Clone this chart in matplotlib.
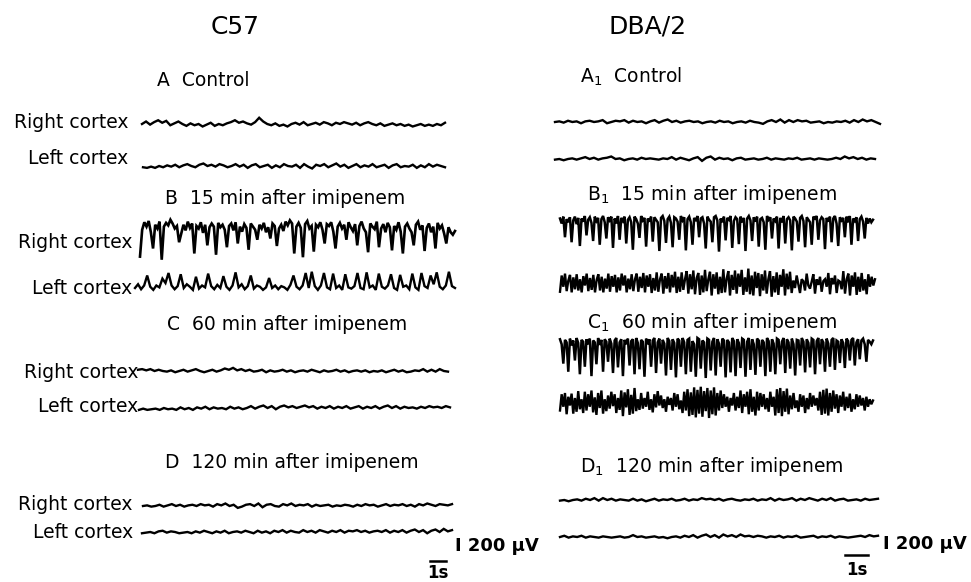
import numpy as np
import matplotlib
matplotlib.use("Agg")
import matplotlib.pyplot as plt

plt.rcParams['font.family'] = ['DejaVu Sans']
plt.rcParams['mathtext.default'] = 'regular'

# EEG samples in microvolts (positive = up)
c57_A_right = [0, 40, -10, 30, 60, 20, 50, -20, 10, 40, 0, -30, 10, -20, 0, -40, -10, 20, -30, 0, -20, 10, 30, 60, 20, 40, 10, -10, 30, 100, 40, 0, -20, 10, -30, -10, -40, 0, 20, -10, 30, -20, 0, 20, -10, 30, 10, -20, 20, 0, 30, 10, -10, 20, -20, 10, 30, 0, -20, 10, -30, -10, 10, -20, 0, -30, -10, -40, -20, 0, -30, -10, -30, 0, -20, 20]
c57_A_left = [-20, -30, -10, -30, 0, -20, 10, -10, 20, -20, 10, 30, 0, -20, 20, 40, 0, 20, -10, 30, 10, -20, 0, 30, -10, 20, -30, 10, 30, -20, 0, 20, -30, 10, -20, 30, 0, -10, 20, -30, 30, -10, -40, 20, 0, 30, -20, 10, 40, -10, 20, -30, 0, 30, -20, 10, -10, 30, -20, 0, 20, -30, 10, 30, -20, 0, -10, 20, -30, 10, -20, 30, -10, 20, 0, -20]
c57_B_right = [-330, 100, 220, 150, 240, 60, -200, 180, 120, 230,
               -380, 150, 210, 170, 260, 200, 120, 160, -100, 40,
               180, 90, 230, 130, 200, -280, 160, 120, 220, 50,
               180, -150, 140, 200, 150, -300, 210, 140, 180, 100,
               -180, 160, 200, 90, 220, -120, 150, 70, 190, 130,
               -220, 200, 150, 100, -60, 180, 120, 210, 60, 140,
               -40, 200, 160, -160, 120, 180, 80, 230, 170, 250,
               200, -280, 150, 210, 130, -340, 190, 240, 120, 160,
               -250, 180, 140, 220, 100, -120, 190, 160, 220, 70,
               -200, 150, 210, 120, 180, -60, 220, 140, 80, 190,
               -150, 160, 230, 120, 60, -260, 200, 150, 110, 230,
               -180, 120, 190, 60, 210, 140, -230, 160, 100, 220,
               70, -280, 150, 200, 120, 60, -150, 180, 230, 100,
               170, -240, 130, 200, 60, 150, -200, 210, 120, 170,
               40, -120, 140, 60, 20, 80]
c57_B_left = [0, 60, -20, 40, 200, 20, -30, 40, 10, 150, 80, 240, 40, -20, 30, 220, 0, 60, 20, -30, 180, -10, 40, 10, 230, 30, -20, 50, 0, 190, 20, -30, 40, 250, 10, 60, -20, 30, 200, -10, 40, 20, -30, 10, 160, 0, 40, -20, 30, 10, -30, 50, 200, 20, -20, 40, 240, 0, 260, 30, -30, 40, 240, 10, -20, 230, 0, 40, -30, 220, 10, -10, 30, 240, 0, -20, 250, 10, 40, -30, 230, 20, -10, 40, 220, 0, -30, 210, 20, 40, -20, 230, 10, -30, 240, 30, 0, 200, 60, 250, 20, -20, 40, 260, 30, 0]
c57_C_right = [20, 30, 10, 30, 0, 20, 0, -10, 10, -20, 0, 20, -10, 10, 30, 0, -20, 0, 20, -10, 10, 40, 20, 50, 10, 30, 0, 20, -10, 0, 20, -20, 10, -10, 0, 20, -10, 10, -20, 0, 10, -10, 20, 0, -20, 10, -10, 0, 20, -10, 10, -20, 0, 10, -10, 10, -20, 0, -10, 10, -20, 0, 20, -10, 10, -20, -10, 10, 0, 30, -10, 20, -10, 30, 0, -10]
c57_C_left = [-30, -10, -30, -20, -10, -30, 0, -20, -10, -30, 10, -20, 0, -30, 10, -10, 20, -20, 10, -10, 0, -20, 20, -10, 10, -20, 0, 30, -10, 20, 40, 0, 30, -20, 20, 40, 10, 30, 0, 20, 40, 10, 30, -10, 20, 0, 30, -10, 20, 0, 30, -10, 10, 30, -10, 20, 0, 30, -10, 20, 40, 0, 30, -10, 20, 0, 10, -10, 20, 0, 30, 10, 20, 0, 30, 10]
c57_D_right = [0, 10, -10, 0, 20, -10, 10, 30, 0, 20, -10, 10, 20, 0, 30, 10, 20, -10, 30, 10, 40, 0, 20, -30, -10, 20, 30, 0, 40, -20, 20, 30, 0, -10, 30, 10, 40, 0, 20, 10, 30, -10, 20, 0, 10, 20, -10, 10, 0, 20, 10, -10, 20, 0, 30, 10, 20, -10, 10, 30, 0, 20, 10, 30, 0, 20, -10, 30, 10, 40, 20, 0, 30, 20, 10, 30]
c57_D_left = [-20, -10, 0, -20, 10, 20, -10, 10, 0, -20, -10, 0, -20, 10, -10, 20, 0, -20, 10, -10, 20, -20, 0, 10, -10, 20, 0, -20, 20, -10, 10, -20, 20, 0, 30, -10, 20, 0, -10, 30, 0, 20, -10, 30, 10, -10, 20, 0, 30, -10, 20, 10, 30, 0, 20, -10, 10, 20, 0, 30, -10, 20, 0, 30, -10, 20, 40, 0, 30, -20, 20, 40, 0, 50, 10, 30]

dba_A_right = [0, 10, -10, 20, 0, 10, -20, 10, 20, 0, 10, 30, -20, 0, 20, 10, 30, -10, 20, 0, 10, -20, 10, 30, -10, 20, 40, 0, 20, -10, 10, 20, 0, 10, -20, 0, 10, -10, 20, 0, 10, -20, 0, 10, -10, 20, 0, -10, -30, 10, 30, 0, 40, -10, 30, 0, 30, 10, 20, -10, 0, 10, -20, 0, -10, 10, 0, 20, -10, 30, 0, 40, 10, 30, 0, -30]
dba_A_left = [-10, 0, -20, 0, 10, -10, 10, 30, 0, 20, -10, 10, 20, 40, 0, 10, -20, 0, 10, -10, 20, 0, 10, 0, -10, 10, 0, 30, -10, 20, 0, -20, 10, 30, -30, 20, 40, -10, 20, 0, 10, -20, 10, 20, -10, 0, 10, -10, 0, 20, -10, 10, 0, -10, 10, 0, 20, -10, 0, 10, -10, 10, 0, -10, 0, 20, 0, 40, 10, 30, 0, 20, -10, 10, 0]
dba_B_right = [120, 40, 150, -180, 110, 60, 140, -260, 90, 150,
               30, 130, -320, 120, 70, 160, -150, 100, 140, 50,
               -240, 150, 80, 130, -300, 110, 160, 60, -200, 140,
               90, 150, -350, 120, 40, 160, -220, 130, 80, 150,
               -280, 100, 140, 60, -380, 150, 110, 40, -190, 160,
               90, 130, -330, 120, 70, 150, -250, 140, 100, 60,
               -400, 130, 160, 80, -270, 110, 150, 50, -340, 140,
               120, 70, -220, 160, 90, 140, -390, 110, 150, 60,
               -300, 130, 80, 160, -180, 120, 140, 40, -360, 150,
               100, 70, -260, 140, 160, 90, -410, 120, 60, 150,
               -230, 130, 100, 160, -350, 80, 140, 110, -290, 150,
               60, 130, -400, 120, 160, 90, -240, 140, 70, 150,
               -330, 110, 130, 60, -380, 160, 100, 140, -200, 120,
               80, 150, -360, 130, 60, 160, -280, 110, 140, 90,
               -390, 150, 120, 70, -250, 130, 160, 80, -340, 140,
               100, 60, -300, 150, 120, 160, -220, 90, 140, 110,
               -370, 130, 70, 150, -260, 120, 160, 40, -320, 140,
               90, 130, -180, 150, 60, 160, -300, 120, 80, 140,
               -240, 110, 150, 70, -200, 130, 40, 120, 60, 100]
dba_B_left = [-140, 120, -60, 150, -130, 40, 130, -150, 90, -100,
              140, -120, 60, -150, 110, -40, 150, -130, 80, -110,
              130, -150, 50, 140, -120, 100, -150, 70, -90, 150,
              -140, 110, -60, 130, -150, 90, -120, 150, -40, 120,
              -150, 70, -100, 140, -130, 60, 150, -140, 100, -80,
              160, -150, 120, -60, 140, -160, 80, -120, 170, -140,
              60, 150, -170, 110, -90, 160, -150, 130, -70, 180,
              -160, 100, -140, 170, -110, 60, 190, -170, 140, -100,
              200, -180, 80, 160, -190, 120, -150, 210, -130, 60,
              180, -200, 140, -90, 170, -180, 100, -160, 220, -150,
              70, 190, -200, 130, -110, 200, -170, 150, -60, 210,
              -190, 90, -140, 230, -180, 120, -200, 180, -80, 160,
              -210, 140, -120, 200, -170, 60, 190, -220, 110, -150,
              170, -190, 130, -60, 220, -200, 150, -100, 180, -160,
              40, -80, 120, -20, -160, 60, 30, -120, 150, -40,
              -90, 20, 140, -170, 60, -30, 100, -140, 30, 60,
              -60, 160, -180, 80, -20, 120, -160, 40, 20, -100,
              190, -170, 60, 150, -200, 120, -60, 170, -190, 100,
              -140, 160, -120, 60, -180, 140, -60, 100, -40, 60]
dba_C_right = [140, 60, -250, 130, 90, -380, 150, 40, 120, -200,
               160, 80, -420, 130, 100, -300, 140, 60, 150, -450,
               120, 90, -260, 160, 50, 130, -380, 140, 100, -220,
               150, 70, -400, 120, 160, -310, 90, 140, -450, 130,
               60, 150, -280, 110, 140, -420, 160, 80, -340, 130,
               100, -460, 150, 60, 140, -300, 120, 160, -400, 90,
               150, -250, 130, 70, -440, 160, 110, -350, 140, 80,
               -470, 150, 120, -300, 160, 90, -420, 130, 150, -380,
               110, 60, -460, 160, 140, -330, 120, 90, -480, 150,
               130, -360, 100, 160, -440, 140, 70, -300, 150, 120,
               -470, 130, 90, -390, 160, 110, -450, 140, 80, -320,
               150, 130, -460, 100, 160, -350, 140, 60, -430, 150,
               120, -300, 130, 90, -450, 160, 110, -380, 140, 70,
               -420, 150, 130, -260, 100, 160, -400, 140, 90, -330,
               150, 60, -440, 130, 120, -280, 160, 100, -390, 140,
               80, -310, 150, 130, -420, 110, 160, -260, 140, 90,
               -380, 150, 70, -300, 130, 160, -350, 120, 100, -240,
               140, 80, -320, 150, 110, -200, 130, 160, -280, 90,
               140, -180, 120, 150, 60, -220, 130, 100, 60, 120]
dba_C_left = [-120, 140, -60, 160, -180, 100, -40, 150, -170, 80,
              -140, 190, -100, 60, -160, 180, -120, 140, -60, 200,
              -150, 90, -190, 160, -80, 200, -170, 60, -130, 120,
              -90, 180, -50, 140, -160, 80, -110, 200, -210, 170,
              -70, 220, -190, 130, -170, 240, -130, 60, -110, 160,
              -90, 80, -60, 180, -110, 60, -150, 140, -70, 190,
              -40, 120, -80, 60, -140, 100, -30, 80, -120, 160,
              -60, 140, -100, 40, -160, 180, -120, 220, -210, 170,
              -190, 250, -230, 210, -170, 260, -220, 190, -130, 240,
              -240, 200, -180, 250, -200, 160, -120, 200, -80, 140,
              -60, 100, -140, 80, -40, 160, -120, 100, -80, 200,
              -160, 140, -60, 180, -180, 220, -140, 100, -200, 180,
              -120, 160, -60, 140, -100, 80, -140, 180, -60, 100,
              -200, 220, -160, 240, -210, 190, -140, 230, -180, 120,
              -100, 160, -80, 40, -140, 140, -60, 120, -160, 80,
              -100, 160, -60, 120, -40, 80, -120, 180, -190, 210,
              -170, 230, -200, 160, -140, 200, -90, 140, -160, 120,
              -60, 180, -120, 100, -80, 150, -140, 60, -100, 140,
              -60, 120, -40, 80, -120, 100, -60, 60, -20, 40]
dba_D_right = [-10, 0, -20, 0, 10, -10, 20, 0, 30, -10, 30, 0, 20, -10, 10, 0, -10, 20, -10, 10, -20, 0, 20, -10, 10, 0, 20, -10, 0, 20, -10, 10, 0, 30, 10, 20, 0, 20, -10, 10, 20, 0, -10, 10, 0, 20, -10, 10, 0, 30, -10, 20, 0, 10, 30, -10, 20, 0, 30, 10, -10, 20, 0, 30, -10, 10, 20, -10, 0, 10, -10, 20, 0, 10, 20]
dba_D_left = [0, 20, -10, 10, 0, 20, -10, 10, 0, -10, 10, 0, -10, 0, 10, -10, 0, 30, 0, 10, -10, 0, 10, -10, 0, -20, 0, 10, -10, 20, 0, 30, -10, 20, 40, 0, 30, -10, 40, 10, 30, 0, 40, 10, 20, 0, 20, 10, -10, 10, 0, 20, -10, 10, 0, 20, -10, 0, 10, 20, -10, 10, 0, 20, -10, 10, 0, -10, 0, 10, 20, 0, 30, 10, 20]

strain_titles = ['C57', 'DBA/2']
panel_titles_c57 = ['A  Control', 'B  15 min after imipenem',
                    'C  60 min after imipenem', 'D  120 min after imipenem']
panel_titles_dba = [r'A$_{1}$  Control', r'B$_{1}$  15 min after imipenem',
                    r'C$_{1}$  60 min after imipenem', r'D$_{1}$  120 min after imipenem']
channel_labels = ['Right cortex', 'Left cortex']
scale_time = '1s'
scale_volt = 'I 200 \u03bcV'

# layout in pixel coordinates (x0, x1, y centre, line width)
PX_PER_UV = 0.0625
traces = [
    (c57_A_right, 142, 445, 124, 1.7), (c57_A_left, 143, 445, 166, 1.7),
    (c57_B_right, 140, 455, 236, 1.9), (c57_B_left, 135, 455, 288, 1.7),
    (c57_C_right, 138, 448, 371, 1.7), (c57_C_left, 139, 450, 408, 1.7),
    (c57_D_right, 143, 452, 506, 1.7), (c57_D_left, 142, 452, 532, 1.7),
    (dba_A_right, 555, 880, 122, 1.7), (dba_A_left, 555, 875, 159, 1.7),
    (dba_B_right, 560, 873, 226, 1.8), (dba_B_left, 560, 875, 283, 1.7),
    (dba_C_right, 560, 873, 348, 1.8), (dba_C_left, 560, 873, 403, 1.7),
    (dba_D_right, 560, 878, 500, 1.7), (dba_D_left, 560, 878, 537, 1.7),
]
label_pos = [(128, 123, 158), (132, 242, 288), (138, 372, 407), (133, 505, 533)]
title_pos_c57 = [(157, 80), (165, 198), (167, 325), (165, 463)]
title_pos_dba = [(580, 77), (587, 195), (587, 323), (580, 467)]

fig = plt.figure(figsize=(9.71, 5.82), dpi=100)
ax = fig.add_axes([0, 0, 1, 1])
ax.set_xlim(0, 971)
ax.set_ylim(582, 0)
ax.axis('off')

for vals, x0, x1, yc, lw in traces:
    v = np.array(vals, dtype=float)
    x = np.linspace(x0, x1, len(v))
    ax.plot(x, yc - v * PX_PER_UV, color='black', lw=lw, solid_joinstyle='miter')

ax.text(235, 27, strain_titles[0], fontsize=18, ha='center', va='center')
ax.text(648, 27, strain_titles[1], fontsize=18, ha='center', va='center')

for t, (x, y) in zip(panel_titles_c57, title_pos_c57):
    ax.text(x, y, t, fontsize=13.5, ha='left', va='center')
for t, (x, y) in zip(panel_titles_dba, title_pos_dba):
    ax.text(x, y, t, fontsize=13.5, ha='left', va='center')

for xr, yr, yl in label_pos:
    ax.text(xr, yr, channel_labels[0], fontsize=13.5, ha='right', va='center')
    ax.text(xr, yl, channel_labels[1], fontsize=13.5, ha='right', va='center')

# scale bars
for bx0, bx1, by, ty, vx, vy in [(430, 446, 561, 573, 455, 546), (845, 868, 555, 570, 883, 544)]:
    ax.plot([bx0, bx1], [by, by], color='black', lw=1.8)
    ax.text((bx0 + bx1) / 2, ty, scale_time, fontsize=12, fontweight='bold',
            ha='center', va='center')
    ax.text(vx, vy, scale_volt, fontsize=13, fontweight='bold', ha='left', va='center')

fig.savefig('out.png', dpi=100)
